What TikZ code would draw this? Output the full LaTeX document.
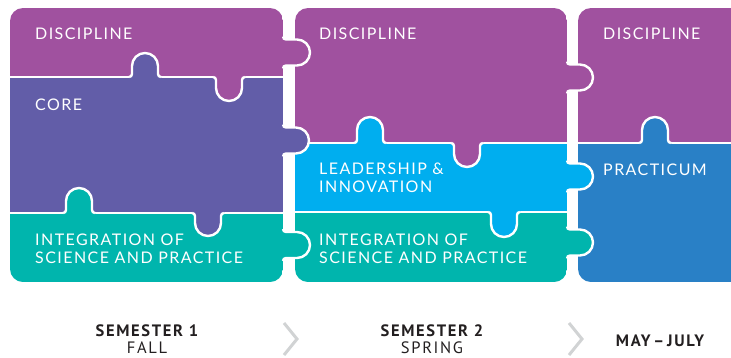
\documentclass[tikz,border=0pt]{standalone}
\usepackage{fontspec}
\newfontfamily\puzfont[LetterSpace=9]{Lato}
\newfontfamily\labfont[LetterSpace=10]{PT Sans}
\definecolor{discC}{HTML}{A0519F}
\definecolor{coreC}{HTML}{625DA8}
\definecolor{integC}{HTML}{00B5AD}
\definecolor{leadC}{HTML}{00AEEF}
\definecolor{pracC}{HTML}{2980C6}
\definecolor{chevC}{HTML}{D1D3D4}
\definecolor{labC}{HTML}{231F20}
\tikzset{
  sepline/.style={white, line width=2.4pt},
  puztext/.style={text=white, inner sep=0pt, anchor=base west, align=left, font=\puzfont\fontsize{16}{18}\selectfont},
  labtext/.style={text=labC, inner sep=0pt, anchor=base, align=center, font=\labfont\fontsize{16.5}{17}\selectfont},
  chevron/.style={chevC, line width=3pt}
}
% x, y, rotation, colour, length
\newcommand\PTab[5]{%
  \begin{scope}[shift={(#1,#2)}, rotate=#3]
    \fill[#4] (-16,-3) -- (-16,0) arc(-90:0:3pt) -- (-13,#5-13) arc(180:0:13pt) -- (13,3) arc(180:270:3pt) -- (16,-3) -- cycle;
    \draw[sepline] (-16,0) arc(-90:0:3pt) -- (-13,#5-13) arc(180:0:13pt) -- (13,3) arc(180:270:3pt);
  \end{scope}}
\begin{document}
\begin{tikzpicture}[x=1pt,y=1pt]
\useasboundingbox (0,0) rectangle (731,-357);
% column 1
\begin{scope}
  \clip[rounded corners=13pt] (10,-8) rectangle (283,-282);
  \fill[discC] (10,-8) rectangle (283,-77);
  \fill[coreC] (10,-77) rectangle (283,-213);
  \fill[integC] (10,-213) rectangle (283,-282);
\end{scope}
\draw[sepline] (10,-77) -- (283,-77);
\draw[sepline] (10,-213) -- (283,-213);
% column 2
\begin{scope}
  \clip[rounded corners=13pt] (295,-8) rectangle (567,-282);
  \fill[discC] (295,-8) rectangle (567,-143);
  \fill[leadC] (295,-143) rectangle (567,-212);
  \fill[integC] (295,-212) rectangle (567,-282);
\end{scope}
\draw[sepline] (295,-143) -- (567,-143);
\draw[sepline] (295,-212) -- (567,-212);
% column 3
\begin{scope}
  \clip (570,0) rectangle (731,-300);
  \clip[rounded corners=13pt] (578,-8) rectangle (760,-282);
  \fill[discC] (578,-8) rectangle (760,-143);
  \fill[pracC] (578,-143) rectangle (760,-282);
\end{scope}
\draw[sepline] (578,-143) -- (731,-143);
% vertical tabs
\PTab{145}{-77}{0}{coreC}{24}
\PTab{229}{-77}{180}{discC}{24}
\PTab{79}{-213}{0}{integC}{25}
\PTab{208}{-213}{180}{coreC}{23}
\PTab{370}{-143}{0}{leadC}{26}
\PTab{467}{-143}{180}{discC}{24}
\PTab{504}{-212}{180}{leadC}{25}
\PTab{655}{-143}{0}{pracC}{26}
% horizontal tabs
\PTab{283}{-52.5}{-90}{discC}{27}
\PTab{283}{-140.5}{-90}{coreC}{26}
\PTab{283}{-245}{-90}{integC}{27}
\PTab{567}{-77.5}{-90}{discC}{26}
\PTab{567}{-176.5}{-90}{leadC}{26}
\PTab{567}{-242.5}{-90}{integC}{26}
% texts (multi-line nodes: base is the last line)
\node[puztext] (d1) at (35,-39) {DISCIPLINE};
\node[puztext] (c1) at (35,-110) {CORE};
\node[puztext] (i1) at (35,-263) {INTEGRATION OF\\SCIENCE AND PRACTICE};
\node[puztext] (d2) at (319,-39) {DISCIPLINE};
\node[puztext] (l2) at (319,-192) {LEADERSHIP \&\\INNOVATION};
\node[puztext] (i2) at (319,-263) {INTEGRATION OF\\SCIENCE AND PRACTICE};
\node[puztext] (d3) at (603,-39) {DISCIPLINE};
\node[puztext] (p3) at (603,-175) {PRACTICUM};
% bottom labels
\node[labtext] (s1) at (147,-353) {\bfseries SEMESTER 1\\FALL};
\node[labtext] (s2) at (432,-353) {\bfseries SEMESTER 2\\SPRING};
\node[labtext] (s3) at (660,-346) {\bfseries MAY\,–\,JULY};
\draw[chevron] (284,-323) -- (297,-339) -- (284,-355);
\draw[chevron] (569,-323) -- (582,-339) -- (569,-355);
\end{tikzpicture}
\end{document}
